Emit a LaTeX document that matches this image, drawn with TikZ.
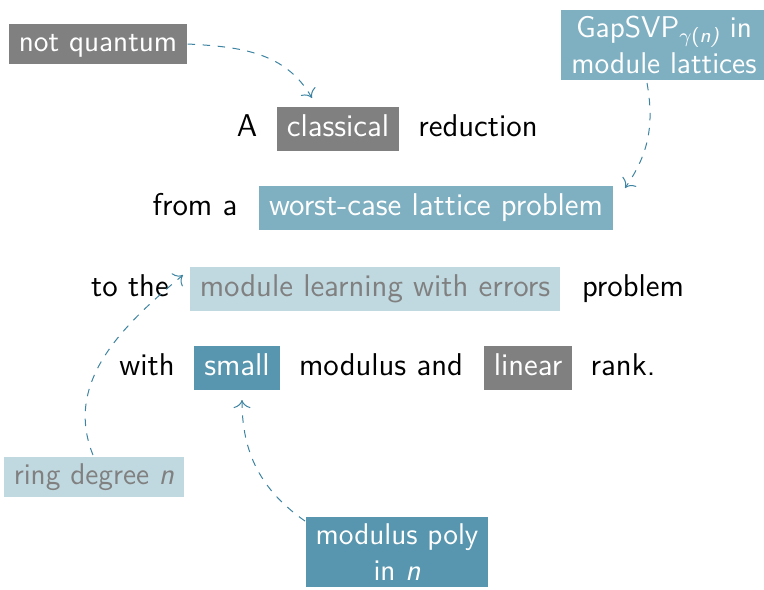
\documentclass[tikz,border=0pt]{standalone}
\usepackage{fontspec}
\usepackage{amsmath}
\usetikzlibrary{arrows.meta}
\definecolor{boxgray}{RGB}{128,128,128}
\definecolor{tealmid}{RGB}{87,150,174}
\definecolor{teallight}{RGB}{127,176,194}
\definecolor{tealpale}{RGB}{192,217,224}
\definecolor{linkcol}{RGB}{62,132,162}
\begin{document}
\begin{tikzpicture}[x=0.4pt,y=0.4pt,
  font=\sffamily\fontsize{12.6}{15}\selectfont,
  word/.style={inner sep=0pt, text height=9pt, text depth=2.7pt},
  tag/.style={inner xsep=4pt, inner ysep=2.8pt, text height=9pt, text depth=2.7pt, text=white},
  note/.style={font=\sffamily\fontsize{12}{14.4}\selectfont, inner xsep=4pt, inner ysep=2.6pt,
    text height=8.5pt, text depth=2.5pt, text=white},
  notetwo/.style={font=\sffamily\fontsize{12}{14.4}\selectfont, inner xsep=4pt, inner ysep=2.6pt,
    align=center, text=white},
  link/.style={draw=linkcol, thin, dashed, -{To[scale=1.3]}}]
\path[use as bounding box] (0,0) rectangle (764,-589);

% sentence, line 1
\node[word] (wA) at (247,-129) {A};
\node[tag, fill=boxgray] (cl) at (338,-129) {classical};
\node[word] (wred) at (478,-129) {reduction};
% line 2
\node[word] (wfrom) at (195,-208) {from a};
\node[tag, fill=teallight] (wc) at (436,-208) {worst-case lattice problem};
% line 3
\node[word] (wto) at (130,-289) {to the};
\node[tag, fill=tealpale, text=boxgray] (mlwe) at (375,-289) {module learning with errors};
\node[word] (wprob) at (633,-289) {problem};
% line 4
\node[word] (wwith) at (147,-368) {with};
\node[tag, fill=tealmid] (sm) at (237,-368) {small};
\node[word] (wmod) at (381,-368) {modulus and};
\node[tag, fill=boxgray] (lin) at (528,-368) {linear};
\node[word] (wrank) at (623,-368) {rank.};

% annotations
\node[note, fill=boxgray] (nq) at (98,-44) {not quantum};
\node[notetwo, fill=teallight] (gap) at (664,-45) {GapSVP$_{\gamma\text{(\itshape n\/)}}$ in\\module lattices};
\node[note, fill=tealpale, text=boxgray] (ring) at (94,-477) {ring degree \textit{n}};
\node[notetwo, fill=tealmid] (mp) at (397,-552) {modulus poly\\in \textit{n}};

% arrow end points
\coordinate (t1) at (312,-98);
\coordinate (t2) at (625,-188);
\coordinate (t3) at (183,-275);
\coordinate (t4) at (242,-400);
\coordinate (s2) at (647,-83);
\coordinate (s3) at (93,-455);
\coordinate (s4) at (305,-521);

\draw[link] (nq.east) to[out=-3,in=120] (t1);
\draw[link] (s2) to[out=-80,in=55] (t2);
\draw[link] (s3) to[out=112,in=220] (t3);
\draw[link] (s4) to[out=145,in=-90] (t4);
\end{tikzpicture}
\end{document}
